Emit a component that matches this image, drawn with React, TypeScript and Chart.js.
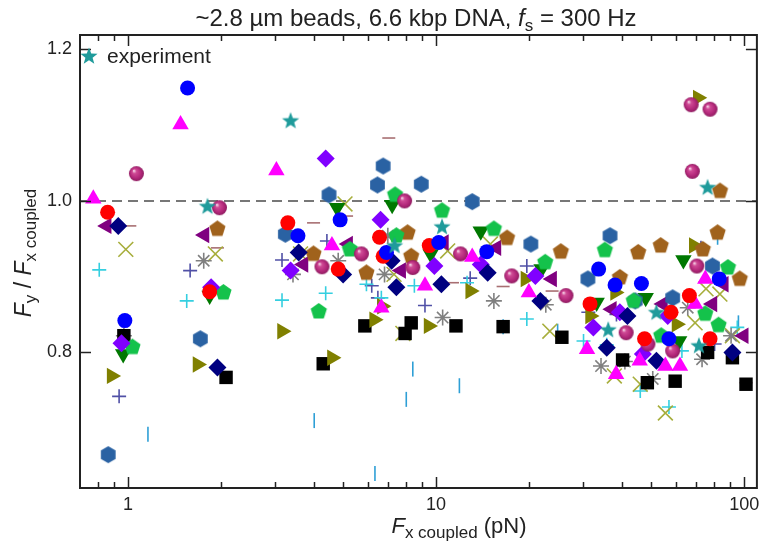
import React, { useEffect, useRef } from 'react';
import { Chart, registerables } from 'chart.js';
Chart.register(...registerables);

// ---------- axes ----------
const X_MIN = 0.698;
const X_MAX = 110;
const Y_MIN = 0.621;
const Y_MAX = 1.219;
const X_TICKS = [0.8, 0.9, 1, 2, 3, 4, 5, 6, 7, 8, 9, 10, 20, 30, 40, 50, 60, 70, 80, 90, 100];
const X_MAJOR = [1, 10, 100];
const Y_TICKS = [0.8, 1.0, 1.2];
const REF_Y = 1.0;

// ---------- data: [Fx coupled (pN), Fy / Fx coupled] ----------
type P = [number, number];
const EXPERIMENT: P[] = [[1.81, 0.993], [3.37, 1.106], [7.33, 0.941], [10.45, 0.966], [36.2, 0.830], [51.9, 0.853], [71.3, 0.809], [76.1, 1.018]];
const BLUE_CIRCLE: P[] = [[0.976, 0.842], [1.56, 1.149], [3.56, 0.954], [4.88, 0.975], [6.9, 0.932], [10.2, 0.945], [14.6, 0.933], [33.7, 0.910], [38.1, 0.889], [46.4, 0.891], [57, 0.818], [83, 0.897]];
const RED_CIRCLE: P[] = [[0.858, 0.985], [1.84, 0.880], [3.30, 0.971], [4.81, 0.910], [6.55, 0.952], [6.73, 0.927], [9.5, 0.941], [31.6, 0.864], [47.5, 0.818], [57.9, 0.853], [66.4, 0.875], [77.5, 0.818]];
const MAGENTA_TRI: P[] = [[0.771, 1.003], [1.48, 1.101], [3.03, 1.040], [4.59, 0.941], [6.64, 0.859], [9.2, 0.888], [13.1, 0.926], [20.0, 0.879], [30.9, 0.804], [38.4, 0.771], [45.8, 0.789], [55.5, 0.782], [61.9, 0.782], [69.3, 0.864], [74.8, 0.897]];
const SPHERE: P[] = [[1.064, 1.036], [1.98, 0.991], [4.26, 0.913], [5.72, 0.930], [7.9, 1.000], [8.4, 0.912], [12.0, 0.930], [17.6, 0.901], [26.4, 0.875], [41.4, 0.826], [48.7, 0.811], [58.6, 0.802], [67.3, 1.127], [67.9, 1.039], [70.2, 0.914], [77.5, 1.121]];
const NAVY_DIAMOND: P[] = [[0.929, 0.967], [1.95, 0.780], [3.58, 0.932], [4.99, 0.903], [7.17, 0.921], [7.43, 0.886], [10.4, 0.890], [14.7, 0.905], [21.8, 0.868], [35.8, 0.806], [41.8, 0.848], [51.9, 0.789], [91.6, 0.800]];
const VIOLET_DIAMOND: P[] = [[0.952, 0.812], [1.86, 0.886], [3.37, 0.908], [4.38, 1.056], [6.6, 0.975], [9.87, 0.914], [13.96, 0.916], [21.0, 0.901], [32.4, 0.833], [39.5, 0.853], [46.9, 0.798], [56.5, 0.848]];
const GREEN_PENT: P[] = [[1.033, 0.807], [2.04, 0.879], [4.16, 0.854], [5.25, 0.936], [7.36, 1.008], [7.43, 0.954], [10.45, 0.987], [15.4, 0.963], [22.6, 0.919], [35.3, 0.935], [43.8, 0.868], [53.8, 0.822], [74.8, 0.851], [82.6, 0.836], [88.6, 0.912]];
const BROWN_PENT: P[] = [[1.95, 0.963], [4.0, 0.930], [5.94, 0.905], [8.08, 0.958], [8.3, 0.927], [17.0, 0.951], [25.4, 0.933], [39.5, 0.899], [45.3, 0.932], [53.6, 0.941], [73.4, 0.936], [82.0, 0.958], [83.5, 1.013], [96.8, 0.897]];
const BLUE_HEX: P[] = [[0.862, 0.665], [1.716, 0.818], [3.24, 0.956], [4.49, 1.008], [6.45, 1.021], [6.73, 1.046], [8.95, 1.022], [13.1, 0.999], [20.3, 0.943], [31.1, 0.897], [36.7, 0.954], [44.3, 0.868], [58.6, 0.872], [78.9, 0.914]];
const GREEN_DOWN: P[] = [[0.964, 0.798], [1.84, 0.875], [4.77, 0.991], [7.2, 0.995], [9.6, 0.930], [13.96, 0.960], [22.0, 0.910], [33.2, 0.866], [47.9, 0.872], [61.5, 0.815], [63.5, 0.922]];
const OLIVE_RIGHT: P[] = [[0.884, 0.769], [1.68, 0.784], [3.16, 0.828], [4.59, 0.793], [6.29, 0.843], [6.67, 0.861], [9.45, 0.835], [12.9, 0.881], [19.5, 0.897], [31.6, 0.848], [38.1, 0.879], [60.3, 0.837], [68.6, 0.941], [70.7, 1.136]];
const PURPLE_LEFT: P[] = [[0.852, 0.967], [1.77, 0.955], [3.71, 0.916], [5.18, 0.943], [7.7, 0.908], [10.6, 0.945], [15.7, 0.938], [23.8, 0.897], [37.2, 0.857], [54.5, 0.864], [78.9, 0.864], [85.9, 0.890], [99.7, 0.822]];
const BLACK_SQUARE: P[] = [[0.969, 0.822], [2.08, 0.767], [4.3, 0.785], [5.87, 0.835], [7.93, 0.825], [8.3, 0.839], [11.6, 0.835], [16.5, 0.834], [25.6, 0.820], [40.3, 0.790], [48.5, 0.760], [59.7, 0.762], [76.1, 0.800], [91.6, 0.793], [101.4, 0.758]];
const GRAY_ASTERISK: P[] = [[0.969, 0.822], [1.76, 0.921], [3.43, 0.903], [4.81, 0.921], [6.8, 0.903], [6.97, 0.954], [10.5, 0.846], [15.4, 0.868], [22.7, 0.863], [34.3, 0.782], [41.0, 0.788], [50.5, 0.765], [65.6, 0.859], [73.0, 0.791], [90.7, 0.822]];
const OLIVE_X: P[] = [[0.983, 0.936], [1.92, 0.930], [3.63, 0.930], [5.06, 0.996], [7.3, 0.903], [7.8, 0.825], [10.9, 0.934], [15.0, 0.943], [23.4, 0.828], [37.9, 0.769], [46.0, 0.758], [55.5, 0.720], [69.3, 0.839], [75.2, 0.884], [83.4, 0.877], [91.6, 0.822]];
const CYAN_PLUS: P[] = [[0.806, 0.909], [1.55, 0.868], [3.16, 0.869], [4.38, 0.878], [5.94, 0.890], [6.64, 0.872], [8.5, 0.888], [12.6, 0.892], [19.7, 0.844], [30.1, 0.815], [35.8, 0.810], [46.0, 0.749], [57.0, 0.728], [62.8, 0.802], [95.0, 0.833]];
const SLATE_PLUS: P[] = [[0.935, 0.742], [1.59, 0.908], [3.16, 0.922], [4.42, 0.947], [6.18, 0.888], [6.47, 0.872], [9.2, 0.862], [12.9, 0.898], [19.7, 0.914], [31.2, 0.853], [38.5, 0.850], [72.4, 0.938], [80.2, 0.811]];
const BLUE_VDASH: P[] = [[1.16, 0.692], [4.02, 0.710], [6.33, 0.640], [8.0, 0.738], [8.4, 0.778], [11.9, 0.756], [16.5, 0.834], [24.8, 0.828], [82.0, 0.952], [95.8, 0.839]];
const ROSY_HDASH: P[] = [[1.013, 0.967], [1.95, 0.938], [4.0, 0.971], [5.12, 0.980], [7.02, 1.083], [11.3, 0.892], [16.5, 0.887], [23.8, 0.881], [101.4, 0.760]];

// ---------- marker images ----------
function mk(size: number) {
  const c = document.createElement('canvas');
  c.width = size; c.height = size;
  return c;
}
function polygonMarker(n: number, r: number, color: string, startDeg: number) {
  const s = Math.ceil(2 * r + 2); const c = mk(s); const g = c.getContext('2d')!;
  const cx = s / 2, cy = s / 2;
  g.beginPath();
  for (let i = 0; i < n; i++) {
    const a = (startDeg + (i * 360) / n) * Math.PI / 180;
    const px = cx + r * Math.cos(a), py = cy + r * Math.sin(a);
    if (i) g.lineTo(px, py); else g.moveTo(px, py);
  }
  g.closePath(); g.fillStyle = color; g.fill();
  return c;
}
function starMarker(r: number, color: string) {
  const s = Math.ceil(2 * r + 2); const c = mk(s); const g = c.getContext('2d')!;
  const cx = s / 2, cy = s / 2 + 0.5;
  g.beginPath();
  for (let i = 0; i < 10; i++) {
    const rr = i % 2 ? r * 0.42 : r;
    const a = (-90 + i * 36) * Math.PI / 180;
    const px = cx + rr * Math.cos(a), py = cy + rr * Math.sin(a);
    if (i) g.lineTo(px, py); else g.moveTo(px, py);
  }
  g.closePath(); g.fillStyle = color; g.fill();
  return c;
}
function sphereMarker(r: number) {
  const s = Math.ceil(2 * r + 2); const c = mk(s); const g = c.getContext('2d')!;
  const cx = s / 2, cy = s / 2;
  const grad = g.createRadialGradient(cx - r * 0.35, cy - r * 0.4, r * 0.05, cx, cy, r);
  grad.addColorStop(0, '#f6d6e8');
  grad.addColorStop(0.25, '#cf4a95');
  grad.addColorStop(0.7, '#b3287a');
  grad.addColorStop(1, '#8e1c60');
  g.beginPath(); g.arc(cx, cy, r, 0, Math.PI * 2); g.fillStyle = grad; g.fill();
  return c;
}

const FONT = '"Liberation Sans", Arial, sans-serif';
const TEXT = '#222';

type Seg = { t: string; it?: boolean; sub?: boolean };
function drawRich(ctx: CanvasRenderingContext2D, segs: Seg[], cx: number, baseY: number, size: number, subSize: number, drop: number) {
  const fontOf = (s: Seg) => `${s.it ? 'italic ' : ''}${s.sub ? subSize : size}px ${FONT}`;
  let total = 0;
  const widths = segs.map((s) => { ctx.font = fontOf(s); const w = ctx.measureText(s.t).width; total += w; return w; });
  let x = cx - total / 2;
  ctx.textAlign = 'left'; ctx.textBaseline = 'alphabetic'; ctx.fillStyle = TEXT;
  segs.forEach((s, i) => { ctx.font = fontOf(s); ctx.fillText(s.t, x, baseY + (s.sub ? drop : 0)); x += widths[i]; });
}

export default function App() {
  const ref = useRef<HTMLCanvasElement>(null);
  useEffect(() => {
    const starImg = starMarker(9, '#1f9b9b');
    const series: any[] = [
      { label: 'experiment', pts: EXPERIMENT, pointStyle: starImg, color: '#1f9b9b', r: 9 },
      { label: 'blue circle', pts: BLUE_CIRCLE, pointStyle: 'circle', color: '#0000ff', r: 7.5 },
      { label: 'red circle', pts: RED_CIRCLE, pointStyle: 'circle', color: '#ff0000', r: 7.5 },
      { label: 'magenta triangle', pts: MAGENTA_TRI, pointStyle: 'triangle', color: '#ff00ff', r: 9.5 },
      { label: 'sphere', pts: SPHERE, pointStyle: sphereMarker(7.5), color: '#b3287a', r: 7.5 },
      { label: 'navy diamond', pts: NAVY_DIAMOND, pointStyle: 'rectRot', color: '#000080', r: 9 },
      { label: 'violet diamond', pts: VIOLET_DIAMOND, pointStyle: 'rectRot', color: '#8000ff', r: 9 },
      { label: 'green pentagon', pts: GREEN_PENT, pointStyle: polygonMarker(5, 8.5, '#14c24b', -90), color: '#14c24b', r: 8 },
      { label: 'brown pentagon', pts: BROWN_PENT, pointStyle: polygonMarker(5, 8.5, '#a0621c', -90), color: '#a0621c', r: 8 },
      { label: 'blue hexagon', pts: BLUE_HEX, pointStyle: polygonMarker(6, 8.5, '#2a62a3', -90), color: '#2a62a3', r: 8 },
      { label: 'green down triangle', pts: GREEN_DOWN, pointStyle: 'triangle', rot: 180, color: '#007800', r: 9.5 },
      { label: 'olive right triangle', pts: OLIVE_RIGHT, pointStyle: 'triangle', rot: 90, color: '#808000', r: 9.5 },
      { label: 'purple left triangle', pts: PURPLE_LEFT, pointStyle: 'triangle', rot: 270, color: '#800080', r: 9.5 },
      { label: 'black square', pts: BLACK_SQUARE, pointStyle: 'rect', color: '#000000', r: 9.5 },
      { label: 'gray asterisk', pts: GRAY_ASTERISK, pointStyle: 'star', color: '#808080', r: 8, line: true },
      { label: 'olive x', pts: OLIVE_X, pointStyle: 'crossRot', color: '#a7ae3c', r: 10.5, line: true },
      { label: 'cyan plus', pts: CYAN_PLUS, pointStyle: 'cross', color: '#35cfe0', r: 7, line: true },
      { label: 'slate plus', pts: SLATE_PLUS, pointStyle: 'cross', color: '#5050a6', r: 7, line: true },
      { label: 'blue dash', pts: BLUE_VDASH, pointStyle: 'line', rot: 90, color: '#2e9fd6', r: 7.5, line: true },
      { label: 'rosy dash', pts: ROSY_HDASH, pointStyle: 'line', color: '#a86f72', r: 6.5, line: true },
    ];
    const datasets: any[] = series.map((s) => ({
      label: s.label,
      data: s.pts.map(([x, y]: P) => ({ x, y })),
      pointStyle: s.pointStyle,
      pointRotation: s.rot || 0,
      pointRadius: s.r,
      backgroundColor: s.color,
      borderColor: s.color,
      borderWidth: s.line ? 1.6 : 0,
      showLine: false,
      order: 0,
    }));
    datasets.push({
      label: 'ref',
      data: [{ x: X_MIN, y: REF_Y }, { x: X_MAX, y: REF_Y }],
      showLine: true,
      borderColor: '#777777',
      borderWidth: 2,
      borderDash: [10, 6],
      pointRadius: 0,
      order: 1,
    });

    const decor = {
      id: 'decor',
      afterDraw(chart: any) {
        const { ctx, chartArea: a, scales } = chart;
        const xs = scales.x, ys = scales.y;
        ctx.save();
        ctx.strokeStyle = TEXT;
        ctx.lineWidth = 2;
        ctx.strokeRect(a.left, a.top, a.right - a.left, a.bottom - a.top);
        ctx.lineWidth = 1.5;
        const seg = (x1: number, y1: number, x2: number, y2: number) => { ctx.beginPath(); ctx.moveTo(x1, y1); ctx.lineTo(x2, y2); ctx.stroke(); };
        for (const v of X_TICKS) {
          const px = Math.round(xs.getPixelForValue(v)) + 0.5;
          const len = X_MAJOR.includes(v) ? 11 : 6;
          seg(px, a.bottom, px, a.bottom - len);
          seg(px, a.top, px, a.top + len);
        }
        for (const v of Y_TICKS) {
          const py = Math.round(ys.getPixelForValue(v)) + 0.5;
          seg(a.left, py, a.left + 11, py);
          seg(a.right, py, a.right - 11, py);
        }
        // legend
        ctx.drawImage(starImg, a.left + 9 - starImg.width / 2, a.top + 21 - starImg.height / 2);
        ctx.fillStyle = TEXT;
        ctx.font = `21px ${FONT}`;
        ctx.textAlign = 'left'; ctx.textBaseline = 'middle';
        ctx.fillText('experiment', a.left + 27, a.top + 22);
        // titles
        drawRich(ctx, [{ t: '~2.8 µm beads, 6.6 kbp DNA, ' }, { t: 'f', it: true }, { t: 's', sub: true }, { t: ' = 300 Hz' }], 416, 26, 24, 17, 5);
        drawRich(ctx, [{ t: 'F', it: true }, { t: 'x coupled', sub: true }, { t: ' (pN)' }], 459, 533, 22, 17, 5);
        ctx.save();
        ctx.translate(31, 253);
        ctx.rotate(-Math.PI / 2);
        drawRich(ctx, [{ t: 'F', it: true }, { t: 'y', sub: true }, { t: ' / ' }, { t: 'F', it: true }, { t: 'x coupled', sub: true }], 0, 0, 23, 17, 5);
        ctx.restore();
        ctx.restore();
      },
    };

    const chart = new Chart(ref.current!, {
      type: 'scatter',
      data: { datasets },
      options: {
        responsive: false,
        animation: false,
        devicePixelRatio: 1,
        layout: { padding: { top: 35, right: 7, left: 0, bottom: 0 } },
        plugins: { legend: { display: false }, tooltip: { enabled: false }, title: { display: false } },
        scales: {
          x: {
            type: 'logarithmic',
            min: X_MIN,
            max: X_MAX,
            grid: { display: false, drawTicks: false },
            border: { display: false },
            afterBuildTicks: (s: any) => { s.ticks = X_TICKS.map((v) => ({ value: v })); },
            afterFit: (s: any) => { s.height = 62; },
            ticks: {
              autoSkip: false,
              maxRotation: 0,
              padding: 6,
              color: TEXT,
              font: { family: FONT, size: 18 },
              callback: (v: any) => (X_MAJOR.includes(Number(v)) ? String(v) : ''),
            },
          },
          y: {
            type: 'linear',
            min: Y_MIN,
            max: Y_MAX,
            grid: { display: false, drawTicks: false },
            border: { display: false },
            afterBuildTicks: (s: any) => { s.ticks = Y_TICKS.map((v) => ({ value: v })); },
            afterFit: (s: any) => { s.width = 80; },
            ticks: {
              padding: 8,
              color: TEXT,
              font: { family: FONT, size: 18 },
              callback: (v: any) => Number(v).toFixed(1),
            },
          },
        },
      },
      plugins: [decor],
    } as any);
    return () => chart.destroy();
  }, []);
  return (
    <div style={{ position: 'absolute', left: 0, top: 0, width: 769, height: 550, background: '#fff' }}>
      <canvas ref={ref} width={769} height={550} style={{ display: 'block' }} />
    </div>
  );
}
